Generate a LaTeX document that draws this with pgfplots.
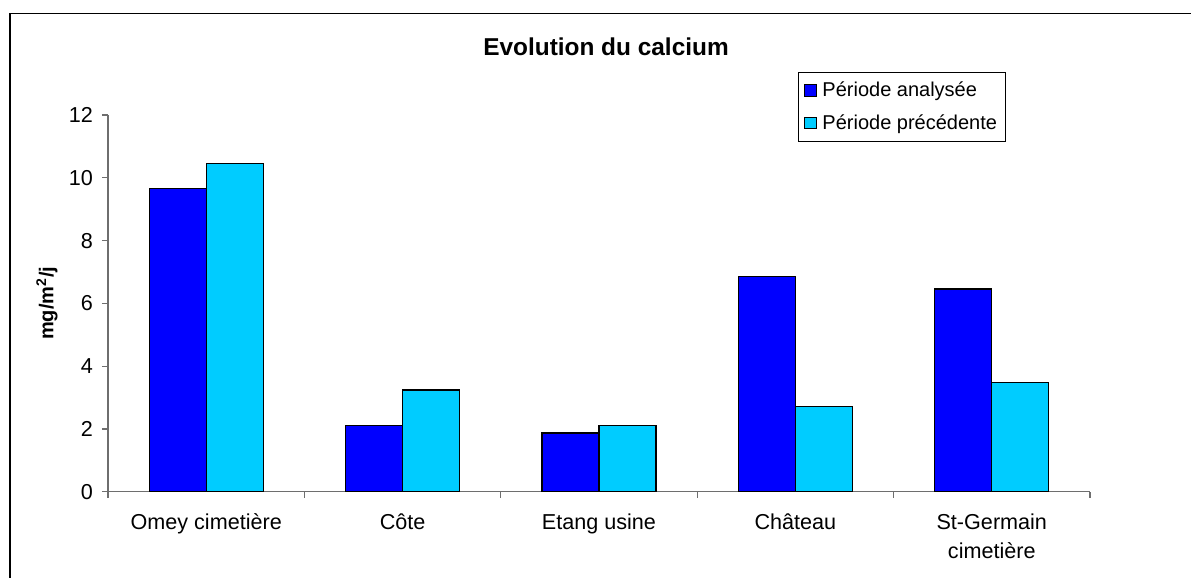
\documentclass[border=0pt]{standalone}
\usepackage{fontspec}
\setmainfont{Liberation Sans}
\usepackage{pgfplots}
\pgfplotsset{compat=1.18}
\definecolor{barblue}{RGB}{0,0,255}
\definecolor{barcyan}{RGB}{0,204,255}
\definecolor{axgray}{RGB}{110,110,110}
\begin{document}
\begin{tikzpicture}
\draw[line width=0.8pt] (5pt,-289pt) -- (5pt,-6.75pt) -- (595.5pt,-6.75pt);
\node[font=\bfseries\fontsize{12.2}{14}\selectfont] at (303pt,-23.5pt) {Evolution du calcium};
\begin{axis}[
  at={(54pt,-245.85pt)}, anchor=south west,
  scale only axis, width=491pt, height=188.35pt,
  xmin=-0.5, xmax=4.5, ymin=0, ymax=12,
  axis x line*=bottom, axis y line*=left,
  axis line style={-, draw=axgray, line width=0.6pt},
  ytick={0,2,...,12},
  xtick={-0.5,0.5,1.5,2.5,3.5,4.5},
  x tick label as interval,
  xticklabels={Omey cimetière, Côte, Etang usine, Château, {St-Germain\\cimetière}},
  tick align=outside, major tick length=3pt,
  tick style={draw=axgray, line width=0.6pt},
  /pgf/number format/assume math mode=true,
  ticklabel style={font=\fontsize{10.8}{14.5}\selectfont},
  xticklabel style={align=center, anchor=north, yshift=-4.5pt},
  yticklabel style={xshift=-1pt},
  ylabel={\textbf{mg/m\textsuperscript{2}/j}},
  ylabel style={font=\fontsize{9.5}{11}\selectfont},
  every axis y label/.style={at={(axis description cs:-0.0621,0.5)}, rotate=90, anchor=center},
  ybar=0pt, bar width=0.29,
  legend style={at={(rel axis cs:0.7026,1.114)}, anchor=north west, draw=black, line width=0.5pt,
    font=\fontsize{10}{12}\selectfont, row sep=3.5pt, inner xsep=2pt, inner ysep=2.5pt, cells={anchor=west}},
  legend image code/.code={\path[draw=none,fill=none] (0pt,0pt) rectangle (8pt,0.1pt);\draw[#1,draw=black,line width=0.5pt] (1pt,-2.9pt) rectangle (6.8pt,2.9pt);},
]
\addplot[fill=barblue, draw=black, line width=0.6pt] coordinates {(0,9.67) (1,2.10) (2,1.87) (3,6.86) (4,6.46)};
\addplot[fill=barcyan, draw=black, line width=0.6pt] coordinates {(0,10.45) (1,3.24) (2,2.12) (3,2.71) (4,3.49)};
\legend{Période analysée, Période précédente}
\end{axis}
\pgfresetboundingbox
\path (0pt,0pt) rectangle (595.5pt,-289pt);
\end{tikzpicture}
\end{document}
